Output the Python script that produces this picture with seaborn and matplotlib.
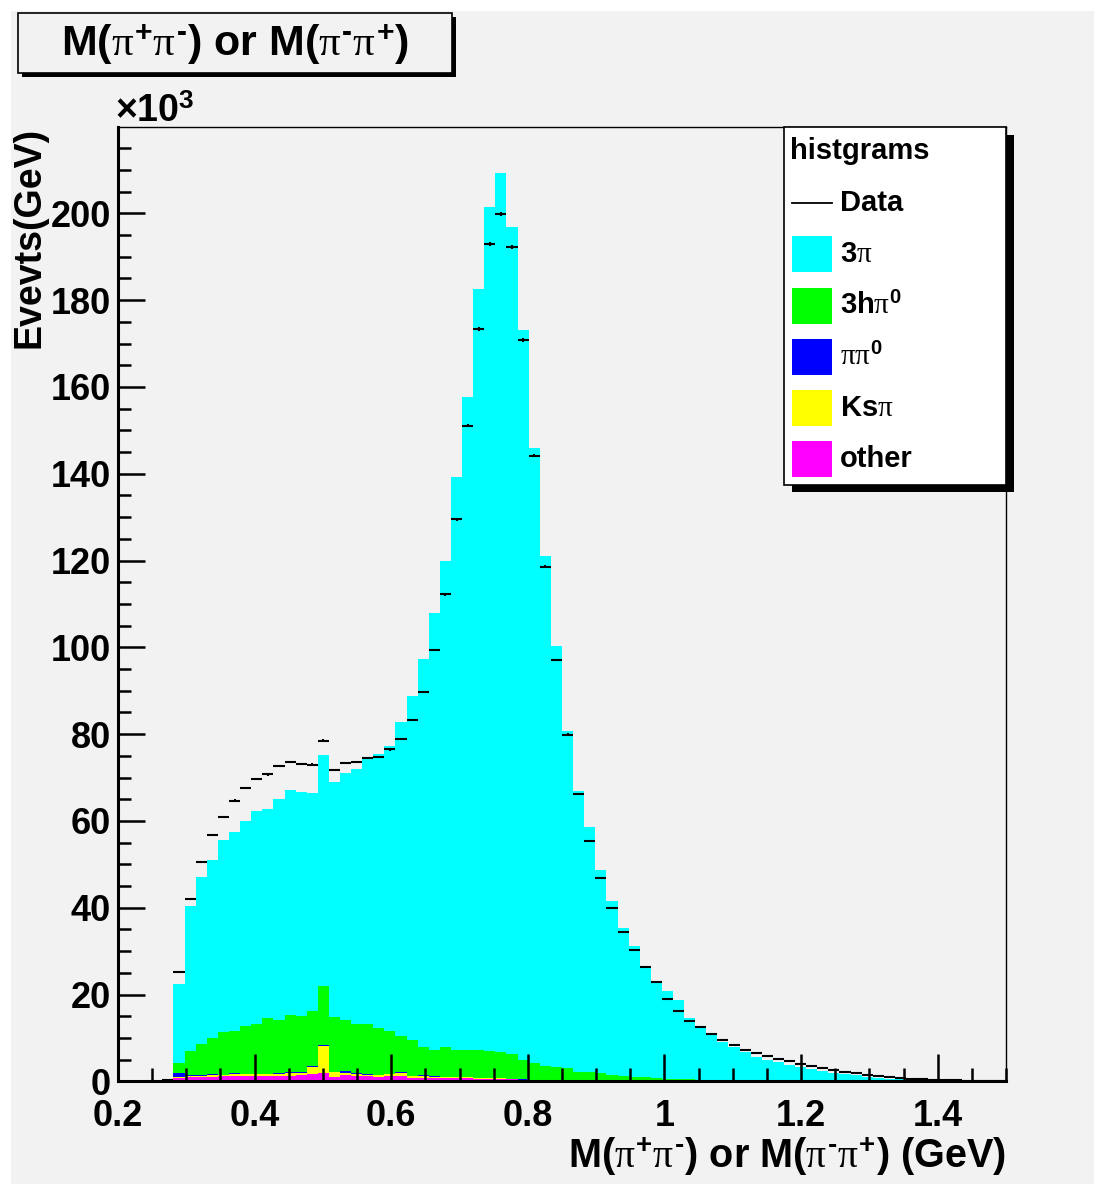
import numpy as np
import pandas as pd
import matplotlib
matplotlib.use("Agg")
import matplotlib.pyplot as plt
from matplotlib.patches import Rectangle
from matplotlib.lines import Line2D
from matplotlib.ticker import MultipleLocator, FixedLocator, FixedFormatter
import seaborn as sns

# ---------------- data (units of 10^3 events per bin) ----------------
x_min, x_max, n_bins = 0.2, 1.5, 80

pi3 = [0.0] * 5 + [
    18.3, 33.5, 38.4, 41.1, 44.4, 45.8, 47.3, 49.1, 48.2, 50.9,
    51.8, 51.6, 50.2, 53.2, 54.2, 56.9, 58.6, 61.1, 63.1, 65.6,
    72.2, 79.2, 89.5, 100.7, 112.0, 131.9, 150.4, 175.3, 194.4, 202.7,
    190.5, 168.3, 141.8, 117.5, 96.9, 77.7, 64.8, 56.4, 46.7, 40.1,
    34.25, 30.2, 25.1, 21.85, 20.2, 18.15, 14.15, 12.2, 10.4, 8.8,
    7.7, 6.6, 5.5, 4.8, 4.3, 3.6, 3.15, 2.7, 2.3, 1.9,
    1.6, 1.3, 1.02, 0.8, 0.55, 0.4, 0.26, 0.22, 0.12, 0.1,
    0.08, 0.07, 0.05, 0.04, 0.03]

h3pi0 = [0.0] * 5 + [
    2.4, 5.5, 7.25, 8.4, 9.75, 9.8, 11.0, 11.6, 12.85, 12.1,
    13.15, 12.9, 12.75, 13.6, 12.55, 11.8, 11.4, 11.55, 10.75, 9.85,
    8.45, 8.2, 6.5, 6.15, 6.8, 6.3, 6.3, 6.45, 6.15, 5.9,
    5.7, 4.4, 3.8, 3.25, 3.02, 2.82, 1.88, 1.88, 1.73, 1.23,
    1.01, 0.87, 0.79, 0.65, 0.51, 0.47, 0.38, 0.33, 0.24, 0.25,
    0.26, 0.17, 0.17, 0.17, 0.17, 0.17, 0.12, 0.12, 0.08, 0.08,
    0.08, 0.08, 0.07, 0.04, 0.04, 0.04, 0.03, 0.03, 0.03, 0.02,
    0.02, 0.01, 0.01, 0.01, 0.01]

pipi0 = [0.0] * 5 + [
    0.9, 0.25, 0.2, 0.2, 0.15, 0.15, 0.1, 0.1, 0.1, 0.25,
    0.25, 0.15, 0.15, 0.15, 0.15, 0.3, 0.15, 0.2, 0.15, 0.15,
    0.15, 0.15, 0.1, 0.15, 0.0, 0.1, 0.1, 0.15, 0.15, 0.1,
    0.1, 0.1, 0.05, 0.05, 0.05, 0.05, 0.05, 0.05, 0.05, 0.05,
    0.04, 0.04, 0.03, 0.03, 0.03, 0.02, 0.02, 0.02, 0.02, 0.01,
    0.01, 0.01, 0.01, 0.01, 0.01, 0.01, 0.01, 0.01, 0.01, 0.01,
    0.01, 0.01, 0.0, 0.0, 0.0, 0.0, 0.0, 0.0, 0.0, 0.0,
    0.0, 0.0, 0.0, 0.0, 0.0]

kspi = [0.0] * 5 + [
    0.1, 0.25, 0.15, 0.3, 0.25, 0.55, 0.45, 0.4, 0.45, 0.45,
    0.7, 0.55, 1.55, 6.25, 1.1, 0.55, 0.45, 0.3, 0.4, 0.45,
    0.75, 0.3, 0.45, 0.25, 0.3, 0.15, 0.15, 0.1, 0.1, 0.1,
    0.05, 0.05, 0.05, 0.05, 0.03, 0.03, 0.02, 0.02, 0.02, 0.02,
    0.02, 0.01, 0.01, 0.01, 0.01, 0.01, 0.01, 0.01, 0.01, 0.01,
    0.0, 0.0, 0.0, 0.0, 0.0, 0.0, 0.0, 0.0, 0.0, 0.0,
    0.0, 0.0, 0.0, 0.0, 0.0, 0.0, 0.0, 0.0, 0.0, 0.0,
    0.0, 0.0, 0.0, 0.0, 0.0]

other = [0.0] * 5 + [
    0.8, 0.9, 1.1, 1.1, 1.15, 1.2, 1.15, 1.2, 1.2, 1.3,
    1.2, 1.4, 1.75, 1.9, 1.0, 1.45, 1.3, 1.15, 1.0, 1.15,
    1.15, 0.85, 0.85, 0.75, 0.8, 0.75, 0.75, 0.6, 0.6, 0.6,
    0.45, 0.35, 0.3, 0.25, 0.2, 0.2, 0.15, 0.15, 0.1, 0.1,
    0.08, 0.08, 0.07, 0.06, 0.05, 0.05, 0.04, 0.04, 0.03, 0.03,
    0.03, 0.02, 0.02, 0.02, 0.02, 0.02, 0.02, 0.02, 0.01, 0.01,
    0.01, 0.01, 0.01, 0.01, 0.01, 0.01, 0.01, 0.0, 0.0, 0.0,
    0.0, 0.0, 0.0, 0.0, 0.0]

data = [0.0] * 4 + [
    0.3,
    25.2, 42.0, 50.6, 56.7, 61.0, 64.7, 67.6, 69.6, 70.7, 72.6,
    73.6, 73.1, 73.0, 78.5, 71.7, 73.3, 73.6, 74.5, 74.7, 76.5,
    78.9, 83.3, 89.7, 99.4, 112.2, 129.5, 151.1, 173.4, 192.9, 199.8,
    192.2, 170.8, 144.2, 118.6, 97.1, 79.9, 66.2, 55.4, 46.8, 39.9,
    34.4, 30.2, 26.4, 22.9, 18.9, 16.2, 13.9, 12.4, 10.9, 9.5,
    8.3, 7.3, 6.5, 5.9, 5.2, 4.6, 4.1, 3.5, 3.0, 2.6,
    2.2, 1.9, 1.5, 1.2, 0.9, 0.7, 0.6, 0.45, 0.4, 0.3,
    0.25, 0.15, 0.15, 0.1, 0.1]

components = ["pi3", "h3pi0", "pipi0", "kspi", "other"]  # top -> bottom of stack
comp_values = {"pi3": pi3, "h3pi0": h3pi0, "pipi0": pipi0, "kspi": kspi, "other": other}
comp_colors = {"pi3": "#00FFFF", "h3pi0": "#00FF00", "pipi0": "#0000FF",
               "kspi": "#FFFF00", "other": "#FF00FF"}
legend_labels = ["3$\\pi$", "3h$\\pi^{0}$", "$\\pi\\pi^{0}$", "Ks$\\pi$", "other"]

x_tick_vals = [0.2, 0.4, 0.6, 0.8, 1.0, 1.2, 1.4]
x_tick_labels = ["0.2", "0.4", "0.6", "0.8", "1", "1.2", "1.4"]
y_tick_vals = [0, 20, 40, 60, 80, 100, 120, 140, 160, 180, 200]
y_tick_labels = [str(v) for v in y_tick_vals]

title_text = "M($\\pi^{+}\\pi^{\u2010}$) or M($\\pi^{\u2010}\\pi^{+}$)"
xlabel_text = "M($\\pi^{+}\\pi^{\u2010}$) or M($\\pi^{\u2010}\\pi^{+}$) (GeV)"
ylabel_text = "Evevts(GeV)"

# ---------------- style ----------------
plt.rcParams["font.family"] = ["Liberation Sans", "DejaVu Sans"]
plt.rcParams["font.weight"] = "bold"
plt.rcParams["mathtext.fontset"] = "custom"
plt.rcParams["mathtext.rm"] = "Liberation Sans:weight=bold"
plt.rcParams["mathtext.bf"] = "Liberation Sans:weight=bold"
plt.rcParams["mathtext.it"] = "Liberation Serif:style=normal:weight=normal"
plt.rcParams["mathtext.sf"] = "Liberation Sans:weight=bold"

W, H = 1104, 1194
fig = plt.figure(figsize=(W / 100, H / 100), dpi=100, facecolor="white")

def fx(px):
    return px / W

def fy(py):
    return 1 - py / H

GRAY = "#F2F2F2"
fig.add_artist(Rectangle((fx(11), fy(1184)), fx(1094) - fx(11), fy(11) - fy(1184),
                         transform=fig.transFigure, facecolor=GRAY, edgecolor="none", zorder=-10))

ax_l, ax_r, ax_t, ax_b = 118, 1006, 127, 1081.3
ax = fig.add_axes([fx(ax_l), fy(ax_b), fx(ax_r) - fx(ax_l), fy(ax_t) - fy(ax_b)])
ax.set_facecolor(GRAY)
ax.set_axisbelow(False)

edges = np.linspace(x_min, x_max, n_bins + 1)
centers = 0.5 * (edges[:-1] + edges[1:])
bin_w = edges[1] - edges[0]

df = pd.DataFrame({
    "mass": np.tile(centers, len(components)),
    "weight": np.concatenate([np.asarray(comp_values[c]) for c in components]),
    "component": np.repeat(components, n_bins),
})

sns.histplot(data=df, x="mass", weights="weight", hue="component", hue_order=components,
             bins=[float(e) for e in edges], multiple="stack", element="step", fill=True,
             alpha=1.0, linewidth=0, palette=comp_colors, legend=False, ax=ax)

d = np.asarray(data)
mask = d > 0
ax.errorbar(centers[mask], d[mask], xerr=bin_w / 2, yerr=np.sqrt(d[mask] * 1e3) / 1e3,
            fmt="none", ecolor="black", elinewidth=1.5, capsize=0, zorder=5)

ax.set_xlim(x_min, x_max)
ax.set_ylim(0, 219.9)
ax.set_xlabel("")
ax.set_ylabel("")

ax.xaxis.set_major_locator(FixedLocator(x_tick_vals))
ax.xaxis.set_major_formatter(FixedFormatter(x_tick_labels))
ax.xaxis.set_minor_locator(MultipleLocator(0.05))
ax.yaxis.set_major_locator(FixedLocator(y_tick_vals))
ax.yaxis.set_major_formatter(FixedFormatter(y_tick_labels))
ax.yaxis.set_minor_locator(MultipleLocator(5))

ax.tick_params(axis="both", which="major", direction="in", length=19.5, width=1.8,
               labelsize=26, colors="black")
ax.tick_params(axis="both", which="minor", direction="in", length=9.5, width=1.8)
ax.tick_params(axis="x", which="major", pad=13)
ax.tick_params(axis="y", which="major", pad=5)
ax.tick_params(top=False, right=False, which="both")
for lab in ax.get_xticklabels() + ax.get_yticklabels():
    lab.set_fontweight("bold")

for s in ["left", "bottom"]:
    ax.spines[s].set_linewidth(2.2)
for s in ["top", "right"]:
    ax.spines[s].set_linewidth(1.0)
for s in ax.spines.values():
    s.set_color("black")
    s.set_zorder(6)

# axis titles
fig.text(fx(30), fy(127), ylabel_text, rotation=90, ha="center", va="top",
         fontsize=27, fontweight="bold")
fig.text(fx(1006), fy(1157), xlabel_text, ha="right", va="center",
         fontsize=28.5, fontweight="bold")
fig.text(fx(115), fy(122), "\u00d710$^{3}$", ha="left", va="baseline",
         fontsize=27, fontweight="bold")

# title box with shadow
fig.add_artist(Rectangle((fx(22), fy(77)), fx(456) - fx(22), fy(17) - fy(77),
                         transform=fig.transFigure, facecolor="black", edgecolor="none", zorder=8))
fig.add_artist(Rectangle((fx(18), fy(73)), fx(452) - fx(18), fy(13) - fy(73),
                         transform=fig.transFigure, facecolor=GRAY, edgecolor="black",
                         linewidth=1.2, zorder=9))
fig.text(fx(235), fy(44), title_text, ha="center", va="center", fontsize=31,
         fontweight="bold", zorder=10)

# legend box with shadow
lg_l, lg_r, lg_t, lg_b = 784, 1006, 127, 485
fig.add_artist(Rectangle((fx(lg_l + 8), fy(lg_b + 7)), fx(lg_r) - fx(lg_l), fy(lg_t + 8) - fy(lg_b + 7),
                         transform=fig.transFigure, facecolor="black", edgecolor="none", zorder=8))
fig.add_artist(Rectangle((fx(lg_l), fy(lg_b)), fx(lg_r) - fx(lg_l), fy(lg_t) - fy(lg_b),
                         transform=fig.transFigure, facecolor="white", edgecolor="black",
                         linewidth=1.2, zorder=9))
fig.text(fx(790), fy(151), "histgrams", ha="left", va="center", fontsize=21,
         fontweight="bold", zorder=10)
fig.add_artist(Line2D([fx(792), fx(832)], [fy(203), fy(203)], transform=fig.transFigure,
                      color="black", linewidth=1.3, zorder=10))
fig.text(fx(840), fy(203), "Data", ha="left", va="center", fontsize=21,
         fontweight="bold", zorder=10)
entry_y = [254, 306, 357, 408, 459]
for c, lab, yy in zip(components, legend_labels, entry_y):
    fig.add_artist(Rectangle((fx(792), fy(yy + 18)), fx(832) - fx(792), fy(yy - 18) - fy(yy + 18),
                             transform=fig.transFigure, facecolor=comp_colors[c],
                             edgecolor="none", zorder=10))
    fig.text(fx(840), fy(yy), lab, ha="left", va="center", fontsize=21,
             fontweight="bold", zorder=10)

fig.savefig("out.png", dpi=100, facecolor="white")
